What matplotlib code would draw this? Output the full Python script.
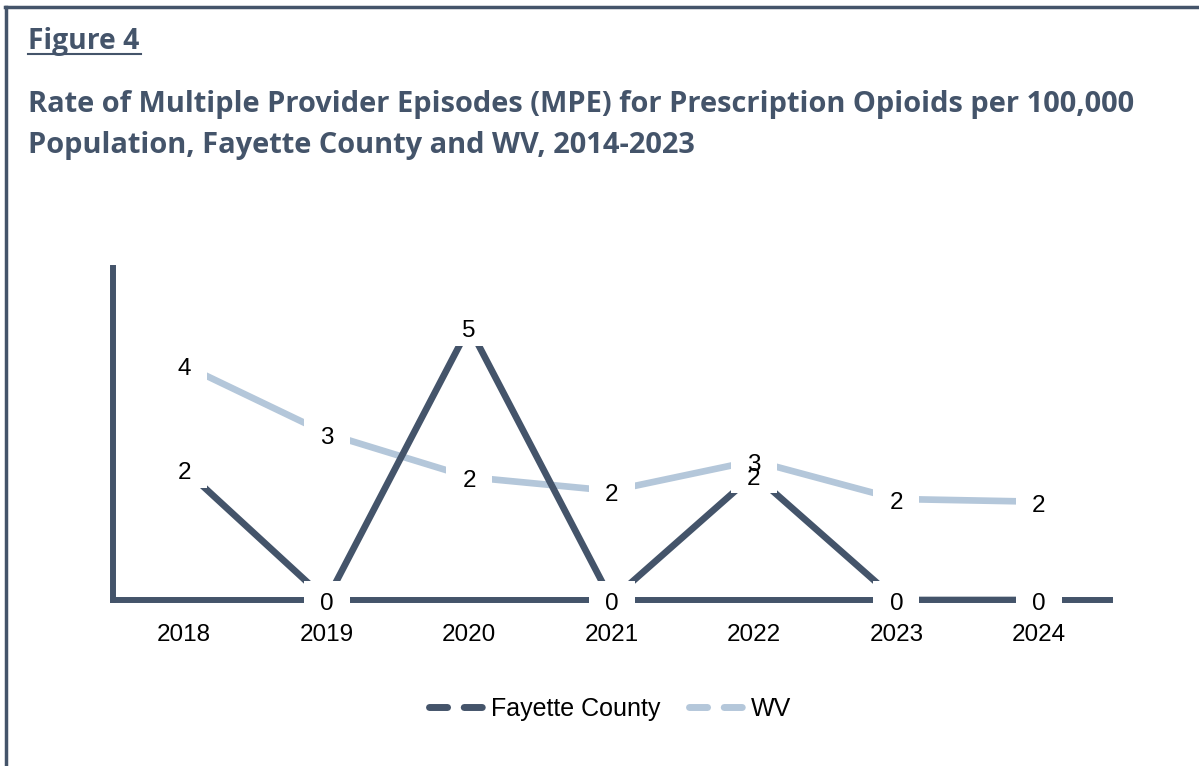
import matplotlib.pyplot as plt
from matplotlib.lines import Line2D
from matplotlib.path import Path
from matplotlib.transforms import offset_copy

years = ["2018", "2019", "2020", "2021", "2022", "2023", "2024"]
fayette = [2.4, 0, 5.0, 0, 2.3, 0, 0]
wv = [4.3, 3.05, 2.25, 2.0, 2.55, 1.85, 1.8]

dark = "#44546A"
light = "#B4C7DA"

fig = plt.figure(figsize=(11.99, 7.66), dpi=100)
ax = fig.add_axes([113 / 1199, 1 - 600 / 766, 997 / 1199, 332 / 766])

x = list(range(len(years)))
ax.plot(x, wv, color=light, lw=4.8, solid_capstyle="butt", zorder=2)
ax.plot(x, fayette, color=dark, lw=4.8, solid_capstyle="butt", zorder=2.2)

# white boxes behind the data labels, cutting the lines like Excel does
box = Path([(-1.2, -1), (1.2, -1), (1.2, 1), (-1.2, 1), (-1.2, -1)],
           [Path.MOVETO, Path.LINETO, Path.LINETO, Path.LINETO, Path.CLOSEPOLY])
for series in (wv, fayette):
    ax.plot(x, series, ls="none", marker=box, ms=33, mfc="white", mew=0,
            zorder=4, clip_on=False)
lbl_tr = offset_copy(ax.transData, fig=fig, x=0, y=-3, units="points")
for series in (wv, fayette):
    for xi, v in zip(x, series):
        ax.text(xi, v, str(int(v + 0.5)), ha="center", va="center",
                fontsize=17.5, family="Liberation Sans", color="black",
                zorder=5, transform=lbl_tr)

ax.set_xlim(-0.5, len(years) - 0.5)
ax.set_ylim(0, 6.08)
ax.set_xticks(x)
ax.set_xticklabels(years, fontsize=17.5, family="Liberation Sans")
ax.tick_params(axis="x", length=0, pad=17)
ax.set_yticks([])
for s in ("top", "right"):
    ax.spines[s].set_visible(False)
for s in ("left", "bottom"):
    ax.spines[s].set_color(dark)
    ax.spines[s].set_linewidth(4.3)
    ax.spines[s].set_zorder(1.5)

handles = [
    Line2D([], [], color=dark, lw=5, linestyle=(0, (2.6, 2.4)), dash_capstyle="round"),
    Line2D([], [], color=light, lw=5, linestyle=(0, (2.6, 2.4)), dash_capstyle="round"),
]
fig.legend(handles, ["Fayette County", "WV"], loc="center",
           bbox_to_anchor=(610 / 1199, 1 - 709 / 766), ncol=2, frameon=False,
           handlelength=2.3, handletextpad=0.16, columnspacing=1.15,
           prop={"family": "Liberation Sans", "size": 18})

# titles
fig.text(28 / 1199, 1 - 49 / 766, "Figure 4", fontsize=20.3, fontweight="bold",
         color=dark, family="Open Sans", va="baseline")
fig.add_artist(Line2D([28 / 1199, 141 / 1199], [1 - 54 / 766, 1 - 54 / 766],
                      color=dark, lw=1.5))
fig.text(28 / 1199, 1 - 112 / 766,
         "Rate of Multiple Provider Episodes (MPE) for Prescription Opioids per 100,000",
         fontsize=20.9, fontweight="bold", color=dark, family="Open Sans", va="baseline")
fig.text(28 / 1199, 1 - 153 / 766,
         "Population, Fayette County and WV, 2014-2023",
         fontsize=20.9, fontweight="bold", color=dark, family="Open Sans", va="baseline")

# frame around the figure (top and left edges)
fig.add_artist(Line2D([5 / 1199, 1], [1 - 7 / 766, 1 - 7 / 766], color=dark, lw=2.5))
fig.add_artist(Line2D([6 / 1199, 6 / 1199], [0, 1 - 7 / 766], color=dark, lw=2.5))

fig.savefig("out.png", dpi=100)
